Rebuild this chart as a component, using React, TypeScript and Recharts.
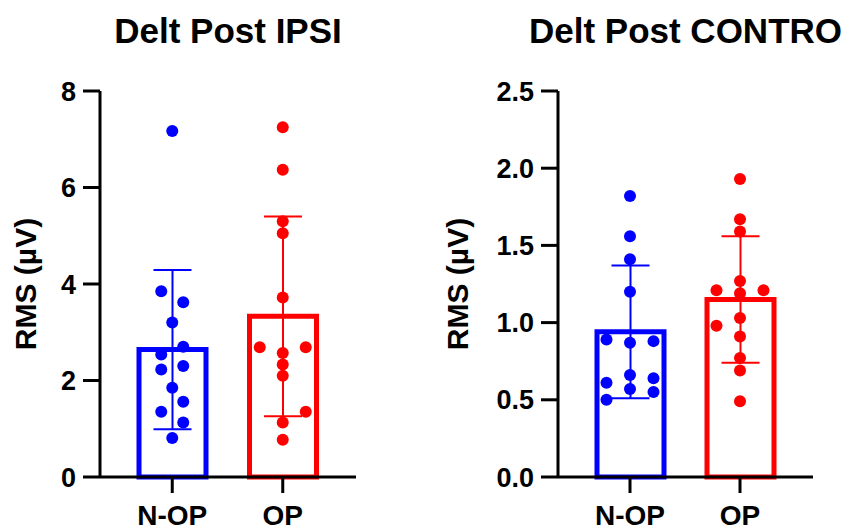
import React from "react";
import { ComposedChart, Bar, Cell, ErrorBar, Scatter, XAxis, YAxis } from "recharts";

const groups = ["N-OP", "OP"];
const colors = ["#0000ff", "#ff0000"];

// Delt Post IPSI
const ipsiMeans = [2.64, 3.33];
const ipsiSds = [1.65, 2.07];
const ipsiNop = [7.17, 3.85, 3.62, 3.2, 2.7, 2.54, 2.3, 2.23, 1.85, 1.56, 1.35, 1.13, 0.81];
const ipsiNopCols = [0, -1, 1, 0, 1, -1, 1, -1, 0, 1, -1, 1, 0];
const ipsiOp = [7.25, 6.37, 5.3, 5.05, 3.72, 2.69, 2.69, 2.57, 2.33, 2.1, 1.35, 1.13, 0.77];
const ipsiOpCols = [0, 0, 0, 0, 0, -1, 1, 0, 0, 0, 1, 0, 0];
const ipsiTicks = [0, 2, 4, 6, 8];

// Delt Post CONTRO
const controMeans = [0.94, 1.15];
const controSds = [0.43, 0.41];
const controNop = [1.82, 1.56, 1.41, 1.2, 0.89, 0.87, 0.88, 0.66, 0.64, 0.61, 0.57, 0.55, 0.5];
const controNopCols = [0, 0, 0, 0, -1, 0, 1, 0, 1, -1, 0, 1, -1];
const controOp = [1.93, 1.67, 1.59, 1.27, 1.21, 1.21, 1.19, 1.03, 0.98, 0.91, 0.77, 0.69, 0.49];
const controOpCols = [0, 0, 0, 0, -1, 1, 0, 0, -1, 0, 0, 0, 0];
const controTicks = [0, 0.5, 1, 1.5, 2, 2.5];

const FONT = "'Liberation Sans', Arial, Helvetica, sans-serif";
const H = 532;
const TOP = 91;
const XH = 55;
const PAD_L = 17;
const PAD_R = 18;

type PanelProps = {
  title: string;
  left: number;
  yWidth: number;
  plotW: number;
  labelX: number;
  means: number[];
  sds: number[];
  nop: number[];
  nopCols: number[];
  op: number[];
  opCols: number[];
  ticks: number[];
  fmt: (v: number) => string;
  spread: number[];
};

function Panel(p: PanelProps) {
  const band = (p.plotW - PAD_L - PAD_R) / 2;
  const xDomain = [-(PAD_L + band / 2) / band, 1 + (PAD_R + band / 2) / band];
  const bars = groups.map((g, i) => ({
    group: g,
    mean: p.means[i],
    errN: i === 0 ? p.sds[i] : undefined,
    errO: i === 1 ? p.sds[i] : undefined,
  }));
  const nopPts = p.nop.map((v, i) => ({ x: 0 + (p.nopCols[i] * p.spread[0]) / band, y: v }));
  const opPts = p.op.map((v, i) => ({ x: 1 + (p.opCols[i] * p.spread[1]) / band, y: v }));
  const width = 425;
  const marginRight = width - p.yWidth - p.plotW;
  const titleCenter = p.yWidth + p.plotW / 2;
  const dot = (color: string) => (s: any) => <circle cx={s.cx} cy={s.cy} r={6} fill={color} />;

  return (
    <div style={{ position: "absolute", left: p.left, top: 0, width, height: H }}>
      <div
        style={{
          position: "absolute",
          left: titleCenter - 250,
          width: 500,
          top: 13,
          textAlign: "center",
          fontFamily: FONT,
          fontWeight: 700,
          fontSize: 35,
          lineHeight: "35px",
          whiteSpace: "nowrap",
        }}
      >
        {p.title}
      </div>
      <div
        style={{
          position: "absolute",
          left: p.labelX - 150,
          top: TOP + (H - TOP - XH) / 2 - 15,
          width: 300,
          height: 30,
          textAlign: "center",
          fontFamily: FONT,
          fontWeight: 700,
          fontSize: 30,
          lineHeight: "30px",
          transform: "rotate(-90deg)",
        }}
      >
        RMS (µV)
      </div>
      <ComposedChart
        width={width}
        height={H}
        data={bars}
        margin={{ top: TOP, right: marginRight, bottom: 0, left: 0 }}
      >
        <XAxis
          dataKey="group"
          height={XH}
          padding={{ left: PAD_L, right: PAD_R }}
          stroke="#000"
          axisLine={{ stroke: "#000", strokeWidth: 3 }}
          tickLine={{ stroke: "#000", strokeWidth: 3 }}
          tickSize={16}
          tickMargin={12}
          tick={{ fill: "#000", fontSize: 28, fontWeight: 700, fontFamily: FONT }}
        />
        <XAxis xAxisId="num" type="number" dataKey="x" domain={xDomain} allowDataOverflow hide />
        <YAxis
          width={p.yWidth}
          domain={[p.ticks[0], p.ticks[p.ticks.length - 1]]}
          ticks={p.ticks}
          tickFormatter={p.fmt}
          interval={0}
          stroke="#000"
          axisLine={{ stroke: "#000", strokeWidth: 3 }}
          tickLine={{ stroke: "#000", strokeWidth: 3 }}
          tickSize={17}
          tickMargin={7}
          tick={{ fill: "#000", fontSize: 27, fontWeight: 700, fontFamily: FONT }}
        />
        <Bar dataKey="mean" barSize={67} fill="#fff" strokeWidth={5} isAnimationActive={false}>
          {bars.map((b, i) => (
            <Cell key={b.group} stroke={colors[i]} fill="#fff" />
          ))}
          <ErrorBar dataKey="errN" width={19} stroke={colors[0]} strokeWidth={2} isAnimationActive={false} />
          <ErrorBar dataKey="errO" width={19} stroke={colors[1]} strokeWidth={2} isAnimationActive={false} />
        </Bar>
        <Scatter xAxisId="num" data={nopPts} dataKey="y" shape={dot(colors[0])} isAnimationActive={false} />
        <Scatter xAxisId="num" data={opPts} dataKey="y" shape={dot(colors[1])} isAnimationActive={false} />
      </ComposedChart>
    </div>
  );
}

export default function App() {
  return (
    <div style={{ position: "absolute", left: 0, top: 0, width: 850, height: H, background: "#fff", overflow: "hidden" }}>
      <Panel
        title="Delt Post IPSI"
        left={0}
        yWidth={100}
        plotW={256}
        labelX={26}
        means={ipsiMeans}
        sds={ipsiSds}
        nop={ipsiNop}
        nopCols={ipsiNopCols}
        op={ipsiOp}
        opCols={ipsiOpCols}
        ticks={ipsiTicks}
        fmt={(v) => String(v)}
        spread={[11, 23]}
      />
      <Panel
        title="Delt Post CONTRO"
        left={425}
        yWidth={133}
        plotW={255}
        labelX={33}
        means={controMeans}
        sds={controSds}
        nop={controNop}
        nopCols={controNopCols}
        op={controOp}
        opCols={controOpCols}
        ticks={controTicks}
        fmt={(v) => v.toFixed(1)}
        spread={[23.5, 23.5]}
      />
    </div>
  );
}
